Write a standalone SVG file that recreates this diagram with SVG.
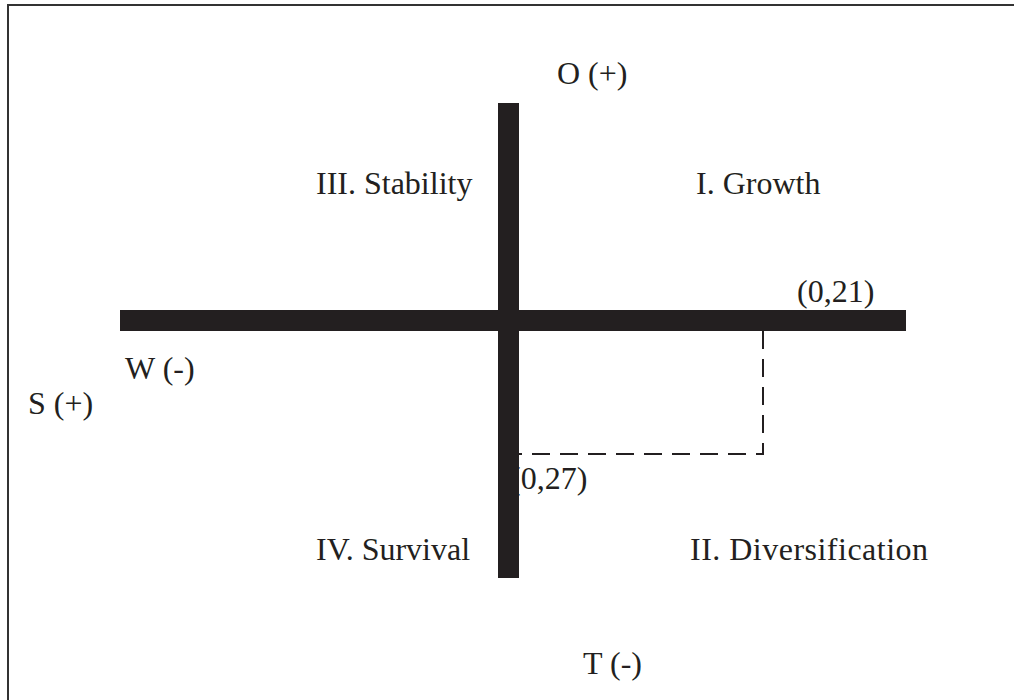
<svg xmlns="http://www.w3.org/2000/svg" width="1014" height="700" viewBox="0 0 1014 700">
<style>
  text { font-family: "Liberation Serif", "Times New Roman", serif; font-size: 32px; fill: #231f20; }
  .bar { fill: #231f20; }
  .frame { stroke: #333; stroke-width: 2; fill: none; }
  .dash { stroke: #231f20; stroke-width: 2; fill: none; stroke-dasharray: 18 10; }
</style>
<rect width="1014" height="700" fill="#fff"/>
<path class="frame" d="M8,700 V5 H1014"/>
<g id="label-o"><text x="557" y="84">O (+)</text></g>
<g id="label-t"><text x="583" y="674">T (-)</text></g>
<g id="label-w"><text x="125" y="379">W (-)</text></g>
<g id="label-s"><text x="28" y="414">S (+)</text></g>
<g id="q3"><text x="316" y="194">III. Stability</text></g>
<g id="q1"><text x="696" y="194">I. Growth</text></g>
<g id="q4"><text x="316" y="560">IV. Survival</text></g>
<g id="q2"><text x="690" y="560" textLength="238" lengthAdjust="spacing">II. Diversification</text></g>
<g id="p021"><text x="797" y="302">(0,21)</text></g>
<g id="p027"><text x="510" y="489">(0,27)</text></g>
<g id="connectors">
  <path class="dash" d="M763,331 V454 H519"/>
</g>
<g id="axes">
  <rect class="bar" x="120" y="310" width="786" height="21"/>
  <rect class="bar" x="498" y="103" width="21" height="475"/>
</g>
</svg>
